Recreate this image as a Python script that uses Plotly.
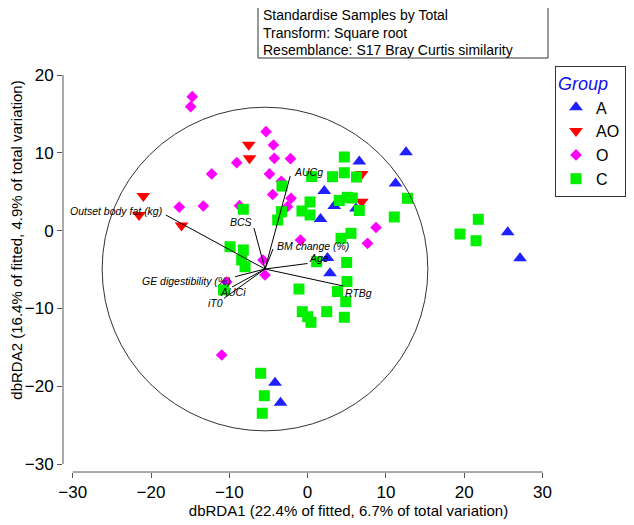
import plotly.graph_objects as go

# ---------------- data ----------------
A_x = [12.57, 6.60, 11.23, 2.13, 3.40, 1.65, 6.18, 2.54, 2.86, 25.56, 27.13, -4.16, -3.46]
A_y = [10.06, 8.88, 6.05, 5.09, 3.16, 1.49, 2.84, -3.52, -5.49, -0.22, -3.56, -19.55, -22.12]

AO_x = [-7.52, -7.42, -20.98, -21.53, -16.10, 6.91, 6.91]
AO_y = [11.04, 9.29, 4.45, 2.00, 0.66, 7.28, 3.71]

O_x = [-14.73, -14.93, -5.31, -4.36, -9.05, -4.25, -2.18, -12.25, -4.87, -3.36, -4.46, -2.12,
       -2.57, -16.39, -13.32, -8.70, 8.74, 7.65, -0.91, -5.70, -5.44, -10.33, -10.97]
O_y = [17.21, 15.93, 12.71, 11.00, 8.73, 9.29, 9.24, 7.28, 7.28, 6.34, 4.64, 4.15,
       3.07, 3.03, 3.16, 3.20, 0.40, -1.63, -1.21, -3.78, -5.71, -6.61, -15.99]

C_x = [4.69, 4.69, 3.18, 6.25, 0.52, -3.27, 0.31, 4.05, 5.07, 5.71, -0.72, 0.31, 6.60, 12.76,
       11.07, -8.21, -3.33, -3.82, 5.54, 4.27, -9.91, -8.21, -8.42, -7.99, 1.16, 4.99, 5.03,
       3.82, 4.87, -1.10, -0.68, 0.01, 0.43, 2.44, 4.69, -10.74, -5.99, -5.53, -5.79, 21.80,
       19.46, 21.51]
C_y = [9.46, 7.44, 6.93, 6.89, 6.95, 5.73, 3.68, 3.87, 4.28, 4.19, 2.52, 2.01, 2.58, 4.15,
       1.75, 2.74, 2.43, 1.36, -0.35, -0.99, -2.07, -2.49, -3.78, -4.64, -4.00, -4.10, -6.54,
       -7.83, -9.14, -7.51, -10.42, -11.07, -11.79, -10.42, -11.14, -7.63, -18.34, -21.22,
       -23.48, 1.45, -0.44, -1.30]

vec_names = ["Outset body fat (kg)", "BCS", "AUCg", "BM change (%)", "Age", "RTBg",
             "GE digestibility (%)", "AUCi", "iT0"]
vec_x = [-18.1, -6.85, -2.22, -4.42, -0.01, 4.56, -9.27, -9.65, -10.68]
vec_y = [2.0, 0.33, 7.02, -2.37, -4.23, -7.12, -5.93, -7.25, -8.70]
origin = (-5.44, -4.94)
circle_r = 20.8

x_ticks = [-30, -20, -10, 0, 10, 20, 30]
y_ticks = [-30, -20, -10, 0, 10, 20]

info_lines = ["Standardise Samples by Total", "Transform: Square root",
              "Resemblance: S17 Bray Curtis similarity"]

# ---------------- styling / layout ----------------
FONT = "Arial, Liberation Sans, sans-serif"
OFF = 8                         # page body margin: figure starts at page (8, 8)
W, H = 634 - OFF, 525 - OFF     # figure size so it fits the window
# label placement: (xanchor, yanchor, xshift, yshift)
label_pos = {
    "Outset body fat (kg)": ("right", "middle", -2, 4),
    "BCS": ("right", "middle", 0, 6),
    "AUCg": ("left", "middle", 2, 4),
    "BM change (%)": ("left", "middle", 2, 3),
    "Age": ("left", "middle", -1, 6),
    "RTBg": ("left", "middle", 0, -7),
    "GE digestibility (%)": ("right", "middle", -2, -4),
    "AUCi": ("center", "middle", 1, -5),
    "iT0": ("center", "middle", -8, -5),
}
info_line_y = [15, 32.5, 50]    # page pixel centres of the info-box lines

# plot area in figure pixels (page pixel minus OFF)
L, R, T, B = 63 - OFF, W, 0, 472 - OFF
XS, YS = 7.83, 7.78                           # pixels per data unit
X30_PX, Y20_PX = 72.7 - OFF, 75.0 - OFF       # figure pixel of x=-30 and y=20
x_range = [-30 - (X30_PX - L) / XS, -30 + (R - X30_PX) / XS]
y_range = [20 - (B - Y20_PX) / YS, 20 + (Y20_PX - T) / YS]


def px(page_x):
    return (page_x - OFF - L) / (R - L)


def py(page_y):
    return (B - (page_y - OFF)) / (B - T)


fig = go.Figure()

fig.add_trace(go.Scatter(x=A_x, y=A_y, mode="markers", name="A",
                         marker=dict(symbol="triangle-up", size=12, color="#1f1fff",
                                     line=dict(width=0))))
fig.add_trace(go.Scatter(x=AO_x, y=AO_y, mode="markers", name="AO",
                         marker=dict(symbol="triangle-down", size=12, color="#ff0000",
                                     line=dict(width=0))))
fig.add_trace(go.Scatter(x=O_x, y=O_y, mode="markers", name="O",
                         marker=dict(symbol="diamond", size=9, color="#ff00ff",
                                     line=dict(width=0))))
fig.add_trace(go.Scatter(x=C_x, y=C_y, mode="markers", name="C",
                         marker=dict(symbol="square", size=11, color="#00f000",
                                     line=dict(width=0))))

# vectors
for name, vx, vy in zip(vec_names, vec_x, vec_y):
    fig.add_trace(go.Scatter(x=[origin[0], vx], y=[origin[1], vy], mode="lines",
                             line=dict(color="black", width=1), showlegend=False,
                             hoverinfo="skip"))
    xa, ya, xs, ys = label_pos[name]
    fig.add_annotation(x=vx, y=vy, text="<i>" + name + "</i>", showarrow=False,
                       xanchor=xa, yanchor=ya, xshift=xs, yshift=ys,
                       font=dict(family=FONT, size=10.5, color="black"))

# circle
fig.add_shape(type="circle", xref="x", yref="y",
              x0=origin[0] - circle_r, x1=origin[0] + circle_r,
              y0=origin[1] - circle_r, y1=origin[1] + circle_r,
              line=dict(color="#333333", width=1))

# detached axis lines
fig.add_shape(type="line", xref="x", yref="paper", x0=x_ticks[0], x1=x_ticks[-1],
              y0=0, y1=0, line=dict(color="#555555", width=1))
fig.add_shape(type="line", xref="paper", yref="y", x0=0, x1=0,
              y0=y_ticks[0], y1=y_ticks[-1], line=dict(color="#555555", width=1))

# info box
fig.add_shape(type="rect", xref="paper", yref="paper", x0=px(258), x1=px(548),
              y0=py(58), y1=py(-2), line=dict(color="#333333", width=1),
              fillcolor="white")
for line, ly in zip(info_lines, info_line_y):
    fig.add_annotation(xref="paper", yref="paper", x=px(261), y=py(ly),
                       text=line, showarrow=False, xanchor="left", yanchor="middle",
                       font=dict(family=FONT, size=14, color="black"))

fig.update_layout(
    width=W, height=H,
    margin=dict(l=L, r=W - R, t=T, b=H - B, pad=0),
    paper_bgcolor="white", plot_bgcolor="white",
    font=dict(family=FONT, color="black"),
    xaxis=dict(range=x_range, tickvals=x_ticks, ticks="outside", ticklen=5,
               tickcolor="#555555", showgrid=False, zeroline=False, showline=False,
               automargin=False,
               tickfont=dict(size=17, color="black"),
               title=dict(text="dbRDA1 (22.4% of fitted, 6.7% of total variation)",
                          font=dict(size=15, color="black"), standoff=3)),
    yaxis=dict(range=y_range, tickvals=y_ticks, ticks="outside", ticklen=5,
               tickcolor="#555555", showgrid=False, zeroline=False, showline=False,
               automargin=False,
               tickfont=dict(size=17, color="black"),
               title=dict(text="dbRDA2 (16.4% of fitted, 4.9% of total variation)",
                          font=dict(size=15, color="black"), standoff=3)),
    legend=dict(x=px(555), y=py(66), xanchor="left", yanchor="top",
                bordercolor="#333333", borderwidth=1, bgcolor="white",
                font=dict(size=16, color="black"), tracegroupgap=0,
                title=dict(text="Group", font=dict(size=18, color="#1010ee", style="italic"))),
    showlegend=True,
)

fig.write_html("out.html")
